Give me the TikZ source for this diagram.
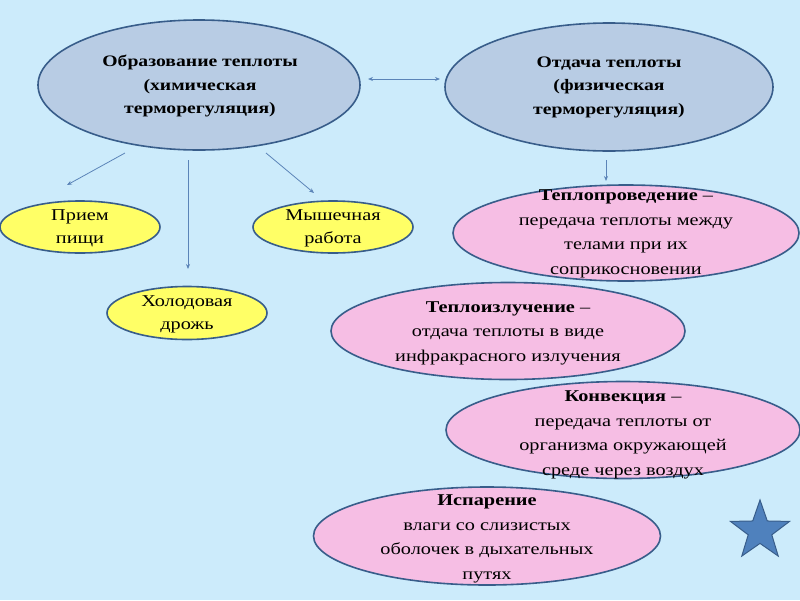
\documentclass[tikz,border=0pt]{standalone}
\usepackage{fontspec}
\setmainfont{Liberation Serif}[FakeStretch=1.23]
\usetikzlibrary{shapes.geometric,arrows.meta}
\definecolor{bg}{HTML}{CCEBFB}
\definecolor{bluefill}{HTML}{B8CCE4}
\definecolor{edge}{HTML}{385D8A}
\definecolor{yel}{HTML}{FFFF66}
\definecolor{pink}{HTML}{F6BEE4}
\definecolor{arr}{HTML}{5B84B8}
\definecolor{starfill}{HTML}{4F81BD}
\tikzset{
  ell/.style={ellipse, draw=edge, line width=1.6pt, inner sep=0pt},
  bigell/.style={ell, fill=bluefill, minimum width=322pt, minimum height=130pt},
  yelell/.style={ell, fill=yel, minimum width=160pt, minimum height=52pt},
  pinkell/.style={ell, fill=pink},
  txt/.style={align=center, font=\fontsize{16.5}{23}\selectfont, text=black},
  btxt/.style={align=center, font=\fontsize{16}{23.5}\selectfont\bfseries, text=black},
  ptxt/.style={align=center, font=\fontsize{16.5}{24.5}\selectfont, text=black},
  conn/.style={draw=arr, line width=0.8pt, -{Stealth[length=5pt,width=4pt]}},
}
\begin{document}
\begin{tikzpicture}[x=1pt,y=-1pt]
\fill[bg] (0,0) rectangle (800,600);
\useasboundingbox (0,0) rectangle (800,600);

\node[bigell] (obr) at (199,85) {};
\node[btxt] at (200,86) {Образование теплоты\\(химическая\\терморегуляция)};
\node[bigell, minimum width=328pt, minimum height=128pt] (otd) at (609,87) {};
\node[btxt] at (609,87) {Отдача теплоты\\(физическая\\терморегуляция)};

\node[yelell] (pri) at (80,227) {};
\node[txt] at (80,228) {Прием\\пищи};
\node[yelell] (mys) at (333,227) {};
\node[txt] at (333,228) {Мышечная\\работа};
\node[yelell, minimum height=53pt] (hol) at (187,313) {};
\node[txt] at (187,314) {Холодовая\\дрожь};

\node[pinkell, minimum width=346pt, minimum height=96pt] (tpr) at (626,233) {};
\node[ptxt] at (626,234) {\textbf{Теплопроведение} –\\передача теплоты между\\телами при их\\соприкосновении};
\node[pinkell, minimum width=354pt, minimum height=97pt] (tiz) at (508,331) {};
\node[ptxt] at (508,333) {\textbf{Теплоизлучение} –\\отдача теплоты в виде\\инфракрасного излучения};
\node[pinkell, minimum width=354pt, minimum height=97pt] (kon) at (623,430) {};
\node[ptxt] at (623,435) {\textbf{Конвекция} –\\передача теплоты от\\организма окружающей\\среде через воздух};
\node[pinkell, minimum width=347pt, minimum height=98pt] (isp) at (487,536) {};
\node[ptxt] at (487,539) {\textbf{Испарение}\\влаги со слизистых\\оболочек в дыхательных\\путях};

\node[star, star points=5, star point ratio=2.5, minimum size=62pt, inner sep=0pt,
      fill=starfill, draw=edge, line width=1pt] (st) at (760,531) {};

\coordinate (a1s) at (125,153); \coordinate (a1e) at (67,185);
\coordinate (a2s) at (188,160); \coordinate (a2e) at (188,269);
\coordinate (a3s) at (266,153); \coordinate (a3e) at (314,193);
\coordinate (a4s) at (606,160); \coordinate (a4e) at (606,181);
\coordinate (dls) at (368,79); \coordinate (dle) at (440,79);
\draw[conn] (a1s) -- (a1e);
\draw[conn] (a2s) -- (a2e);
\draw[conn] (a3s) -- (a3e);
\draw[conn] (a4s) -- (a4e);
\draw[conn, {Stealth[length=5pt,width=4pt]}-{Stealth[length=5pt,width=4pt]}] (dls) -- (dle);
\end{tikzpicture}
\end{document}
